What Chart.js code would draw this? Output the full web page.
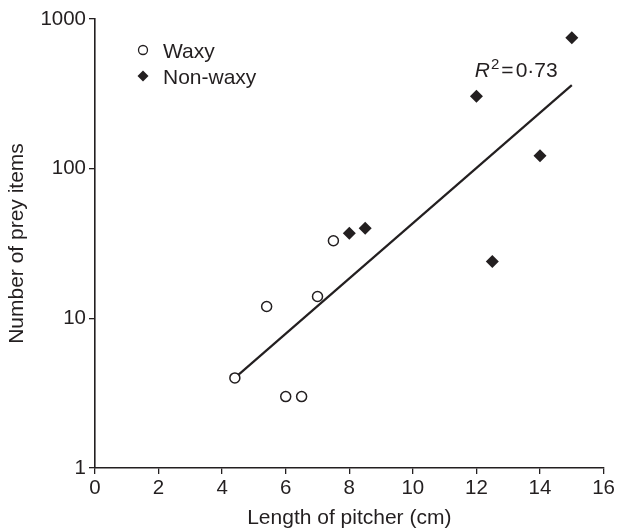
<!DOCTYPE html>
<html>
<head>
<meta charset="utf-8">
<script src="https://cdn.jsdelivr.net/npm/chart.js@4/dist/chart.umd.min.js"></script>
<style>
  html, body { margin: 0; padding: 0; background: #fff; }
  #wrap { width: 617px; height: 531px; }
</style>
</head>
<body>
<div id="wrap"><canvas id="chartContainer"></canvas></div>
<script>
"use strict";

// 1: data
const waxyLength = [4.4, 5.4, 6.0, 6.5, 7.0, 7.5];
const waxyPrey = [4, 12, 3, 3, 14, 33];
const nonWaxyLength = [8.0, 8.5, 12.0, 12.5, 14.0, 15.0];
const nonWaxyPrey = [37, 40, 305, 24, 122, 750];
// fitted line end points
const fitLength = [4.4, 15.0];
const fitPrey = [4.0, 362];
const yTicks = [1, 10, 100, 1000];
const rSquared = '0·73';

const ink = '#231f20';
const font = '"Liberation Sans", Arial, Helvetica, sans-serif';

function toPoints(xs, ys) {
  return xs.map((x, i) => ({ x: x, y: ys[i] }));
}

// 2: legend and R² label drawn on the canvas
const notes = {
  id: 'notes',
  afterDraw(chart) {
    const ctx = chart.ctx;
    const { x, y } = chart.scales;
    ctx.save();
    ctx.fillStyle = ink;
    ctx.strokeStyle = ink;
    ctx.textBaseline = 'alphabetic';
    ctx.font = '21px ' + font;

    // legend
    const lx = 143, ly1 = 50, ly2 = 76;
    ctx.lineWidth = 1.3;
    ctx.beginPath();
    ctx.arc(lx, ly1, 4.5, 0, Math.PI * 2);
    ctx.stroke();
    ctx.beginPath();
    ctx.moveTo(lx, ly2 - 5.5);
    ctx.lineTo(lx + 5.5, ly2);
    ctx.lineTo(lx, ly2 + 5.5);
    ctx.lineTo(lx - 5.5, ly2);
    ctx.closePath();
    ctx.fill();
    ctx.fillText(chart.data.datasets[0].label, 163, ly1 + 7.5);
    ctx.fillText(chart.data.datasets[1].label, 163, ly2 + 7.5);

    // R² = 0·73
    let px = x.getPixelForValue(11.95);
    const py = y.getPixelForValue(410);
    ctx.font = 'italic 21px ' + font;
    ctx.fillText('R', px, py);
    px += ctx.measureText('R').width + 1;
    ctx.font = '15px ' + font;
    ctx.fillText('2', px, py - 8);
    px += ctx.measureText('2').width + 2;
    ctx.font = '21px ' + font;
    ctx.fillText('=', px, py);
    px += ctx.measureText('=').width + 2;
    ctx.fillText(rSquared, px, py);
    ctx.restore();
  }
};

// 3: create the chart
new Chart(document.getElementById('chartContainer'), {
  type: 'scatter',
  data: {
    datasets: [{
      label: 'Waxy',
      data: toPoints(waxyLength, waxyPrey),
      pointStyle: 'circle',
      pointRadius: 5,
      pointBorderWidth: 1.5,
      pointBackgroundColor: '#fff',
      pointBorderColor: ink,
      order: 0
    }, {
      label: 'Non-waxy',
      data: toPoints(nonWaxyLength, nonWaxyPrey),
      pointStyle: 'rectRot',
      pointRadius: 6.5,
      pointBorderWidth: 0,
      pointBackgroundColor: ink,
      pointBorderColor: ink,
      order: 0
    }, {
      label: 'fit',
      data: toPoints(fitLength, fitPrey),
      showLine: true,
      borderColor: ink,
      borderWidth: 2.2,
      pointRadius: 0,
      order: 2
    }]
  },
  options: {
    responsive: true,
    maintainAspectRatio: false,
    animation: false,
    layout: { padding: { left: 0, right: 13, top: 19, bottom: 0 } },
    plugins: {
      legend: { display: false },
      tooltip: { enabled: false }
    },
    scales: {
      x: {
        type: 'linear',
        min: 0,
        max: 16,
        ticks: { stepSize: 2, color: ink, font: { family: font, size: 20.5 }, padding: 2 },
        grid: { drawOnChartArea: false, drawTicks: true, tickLength: 6, color: ink, lineWidth: 1.3 },
        border: { display: true, color: ink, width: 1.6 },
        title: { display: true, text: 'Length of pitcher (cm)', color: ink, font: { family: font, size: 21 }, padding: { top: 1, bottom: 0 } },
        afterFit(scale) { scale.height = 63; }
      },
      y: {
        type: 'logarithmic',
        min: 1,
        max: 1000,
        afterBuildTicks(scale) { scale.ticks = yTicks.map(v => ({ value: v })); },
        ticks: { color: ink, font: { family: font, size: 20.5 }, padding: 3, callback: v => String(v) },
        grid: { drawOnChartArea: false, drawTicks: true, tickLength: 6, color: ink, lineWidth: 1.3 },
        border: { display: true, color: ink, width: 1.6 },
        title: { display: true, text: 'Number of prey items', color: ink, font: { family: font, size: 21 }, padding: { top: 5, bottom: 0 } },
        afterFit(scale) { scale.width = 95; }
      }
    }
  },
  plugins: [notes]
});
</script>
</body>
</html>
